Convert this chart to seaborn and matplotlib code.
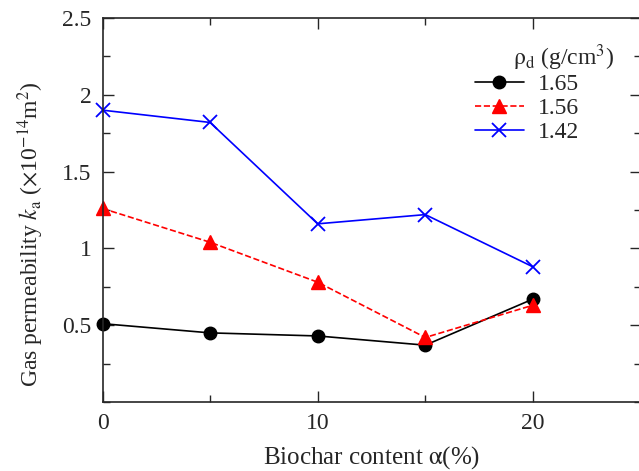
import numpy as np
import pandas as pd
import seaborn as sns
import matplotlib.pyplot as plt
from matplotlib.ticker import MultipleLocator

biochar = [0, 5, 10, 15, 20]
ka_165 = [0.51, 0.45, 0.43, 0.37, 0.67]
ka_156 = [1.26, 1.04, 0.78, 0.42, 0.63]
ka_142 = [1.90, 1.82, 1.16, 1.22, 0.88]
densities = ["1.65", "1.56", "1.42"]

sns.set_style("ticks")
plt.rcParams['font.family'] = ['Liberation Serif', 'DejaVu Serif']
plt.rcParams['mathtext.fontset'] = 'stix'

fig = plt.figure(figsize=(6.39, 4.71), dpi=100)
ax = fig.add_axes([102.5 / 639, 69 / 471, 538 / 639, 384 / 471])

series = [ka_165, ka_156, ka_142]
styles = [
    dict(color="black", marker="o", linestyle="-", markersize=9, markeredgecolor="black", markeredgewidth=1),
    dict(color="red", marker="^", linestyle="--", markersize=10, markeredgecolor="red", markeredgewidth=1),
    dict(color="blue", marker="x", linestyle="-", markersize=10, markeredgecolor="blue", markeredgewidth=1.3),
]
for vals, lab, st in zip(series, densities, styles):
    df = pd.DataFrame({"x": biochar, "y": vals})
    sns.lineplot(data=df, x="x", y="y", ax=ax, label=lab, linewidth=1.2, clip_on=False, **st)

ax.set_xlim(0, 25)
ax.set_ylim(0, 2.5)
ax.xaxis.set_major_locator(MultipleLocator(10))
ax.xaxis.set_minor_locator(MultipleLocator(5))
ax.yaxis.set_major_locator(MultipleLocator(0.5))
ax.yaxis.set_minor_locator(MultipleLocator(0.25))
ax.set_yticks([0.5, 1, 1.5, 2, 2.5])
ax.set_yticklabels(["0.5", "1", "1.5", "2", "2.5"])
ax.tick_params(which="both", direction="in", top=True, right=True, labelsize=17, width=1, pad=8)
ax.tick_params(which="major", length=8)
ax.tick_params(which="minor", length=5)
for s in ax.spines.values():
    s.set_linewidth(1.2)

ax.set_xlabel(r"Biochar content $\mathrm{\alpha}$(%)", fontsize=18, labelpad=7)
ax.set_ylabel(r"Gas permeability $k_\mathrm{a}$ ($\times$10$^{-14}$m$^{2}$)", fontsize=17)
ax.yaxis.set_label_coords(-0.105, 0.4375)

ax.legend(loc="upper left", bbox_to_anchor=(0.692, 0.855), frameon=False, fontsize=17,
          handlelength=2.07, labelspacing=0.1, borderpad=0, borderaxespad=0, handletextpad=0.6)
ax.text(0.763, 0.878, r"$\mathrm{\rho_d}$ (g/cm$^3$)", transform=ax.transAxes,
        fontsize=17, ha="left", va="baseline")

plt.savefig("out.png", dpi=100)
